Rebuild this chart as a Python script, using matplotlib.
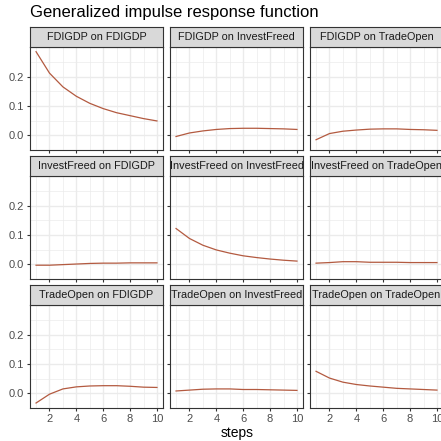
import matplotlib
matplotlib.use("Agg")
import matplotlib.pyplot as plt
import numpy as np

plt.rcParams["font.family"] = ["Liberation Sans", "DejaVu Sans"]

steps = [1, 2, 3, 4, 5, 6, 7, 8, 9, 10]
titles = [
    "FDIGDP on FDIGDP", "FDIGDP on InvestFreed", "FDIGDP on TradeOpen",
    "InvestFreed on FDIGDP", "InvestFreed on InvestFreed", "InvestFreed on TradeOpen",
    "TradeOpen on FDIGDP", "TradeOpen on InvestFreed", "TradeOpen on TradeOpen",
]
fdi_fdi = [0.285, 0.212, 0.165, 0.133, 0.109, 0.091, 0.077, 0.067, 0.057, 0.049]
fdi_inv = [-0.004, 0.008, 0.015, 0.020, 0.023, 0.024, 0.024, 0.023, 0.022, 0.020]
fdi_trd = [-0.015, 0.006, 0.014, 0.018, 0.021, 0.022, 0.022, 0.020, 0.019, 0.017]
inv_fdi = [-0.003, -0.003, -0.001, 0.001, 0.003, 0.004, 0.004, 0.005, 0.005, 0.005]
inv_inv = [0.122, 0.088, 0.065, 0.049, 0.038, 0.029, 0.023, 0.018, 0.014, 0.011]
inv_trd = [0.004, 0.006, 0.009, 0.009, 0.007, 0.007, 0.007, 0.006, 0.006, 0.006]
trd_fdi = [-0.033, -0.003, 0.015, 0.022, 0.025, 0.026, 0.026, 0.024, 0.021, 0.020]
trd_inv = [0.008, 0.011, 0.014, 0.015, 0.015, 0.013, 0.013, 0.012, 0.011, 0.010]
trd_trd = [0.075, 0.052, 0.038, 0.030, 0.025, 0.021, 0.017, 0.015, 0.013, 0.011]
series = [fdi_fdi, fdi_inv, fdi_trd, inv_fdi, inv_inv, inv_trd, trd_fdi, trd_inv, trd_trd]

W = H = 441
fig = plt.figure(figsize=(W / 100, H / 100), dpi=100)

LINE = "#b35a40"
GRID = "#ebebeb"
BORDER = "#333333"
TXT = "#4d4d4d"

lefts = [30, 170, 310]
tops = [47, 176, 305]     # top of plot area (pixels from top)
pw, ph, sh = 133, 103, 20

allv = np.concatenate(series)
lo, hi = allv.min(), allv.max()
pad = 0.05 * (hi - lo)
ylim = (lo - pad, hi + pad)
xlim = (1 - 0.45, 10 + 0.45)

for i, (t, y) in enumerate(zip(titles, series)):
    r, c = divmod(i, 3)
    x0, y0 = lefts[c], tops[r]
    ax = fig.add_axes([x0 / W, 1 - (y0 + ph) / H, pw / W, ph / H])
    ax.set_xlim(*xlim)
    ax.set_ylim(*ylim)
    ax.set_xticks([2, 4, 6, 8, 10])
    ax.set_xticks([1, 3, 5, 7, 9], minor=True)
    ax.set_yticks([0.0, 0.1, 0.2])
    ax.set_yticks([-0.05, 0.05, 0.15, 0.25], minor=True)
    ax.grid(True, which="major", color=GRID, lw=1.0)
    ax.grid(True, which="minor", color=GRID, lw=0.5)
    ax.set_axisbelow(True)
    for s in ax.spines.values():
        s.set_color(BORDER)
        s.set_linewidth(0.8)
    ax.tick_params(which="major", length=2.5, width=0.8, color=BORDER,
                   labelsize=8, labelcolor=TXT, pad=2)
    ax.tick_params(which="minor", length=0)
    ax.set_yticklabels(["0.0", "0.1", "0.2"])
    if c != 0:
        ax.tick_params(axis="y", labelleft=False)
    if r != 2:
        ax.tick_params(axis="x", labelbottom=False)
    ax.plot(steps, y, color=LINE, lw=0.9)

    sax = fig.add_axes([x0 / W, 1 - y0 / H, pw / W, sh / H])
    sax.set_facecolor("#d9d9d9")
    sax.set_xticks([])
    sax.set_yticks([])
    for s in sax.spines.values():
        s.set_color(BORDER)
        s.set_linewidth(0.8)
    sax.text(0.5, 0.48, t, ha="center", va="center", fontsize=7.8,
             color="#1a1a1a", transform=sax.transAxes)

fig.text(30 / W, 1 - 12 / H, "Generalized impulse response function",
         ha="left", va="center", fontsize=12, color="black")
fig.text(237 / W, 1 - 433 / H, "steps", ha="center", va="center",
         fontsize=10, color="black")

fig.savefig("out.png", dpi=100, facecolor="white")
